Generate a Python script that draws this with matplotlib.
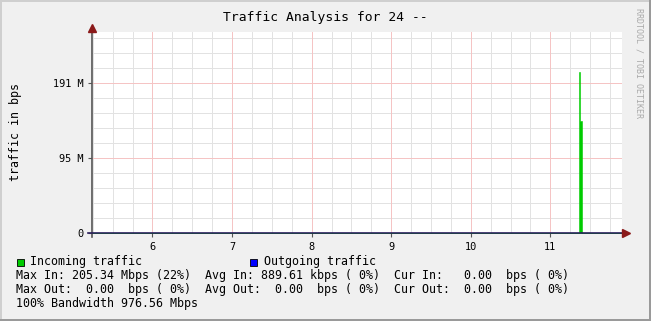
import numpy as np
import matplotlib
matplotlib.use('Agg')
import matplotlib.pyplot as plt

# Data (time in hours, traffic in bits per second)
in_times = [5.234, 11.354, 11.371, 11.399, 11.894]
in_values = [0.0, 215.3e6, 149.7e6, 0.0, 0.0]

x_ticks = [6, 7, 8, 9, 10, 11]
y_ticks = [0, 100e6, 200e6]
y_tick_labels = ['0', '95 M', '191 M']

legend_rows = [
    'Max In: 205.34 Mbps (22%)  Avg In: 889.61 kbps ( 0%)  Cur In:   0.00  bps ( 0%)',
    'Max Out:  0.00  bps ( 0%)  Avg Out:  0.00  bps ( 0%)  Cur Out:  0.00  bps ( 0%)',
    '100% Bandwidth 976.56 Mbps',
]

W, H = 651, 321
fig = plt.figure(figsize=(W / 100, H / 100), dpi=100)
fig.patch.set_facecolor('#F0F0F0')
mono = 'DejaVu Sans Mono'

# plot area in pixels
px_l, px_r, px_t, px_b = 91.5, 621.5, 32.0, 233.3
ax = fig.add_axes([px_l / W, 1 - px_b / H, (px_r - px_l) / W, (px_b - px_t) / H])
ax.set_facecolor('white')
ax.set_xlim(5.234, 11.894)
ax.set_ylim(0, 268.4e6)

# grid
for y in np.arange(20e6, 268e6, 20e6):
    ax.axhline(y, color='#E2E2E2', lw=0.7, zorder=1)
for x in np.arange(5.25, 11.9, 0.25):
    ax.axvline(x, color='#E2E2E2', lw=0.7, zorder=1)
for y in y_ticks[1:]:
    ax.axhline(y, color='#F6C4C4', lw=0.7, zorder=2)
for x in x_ticks:
    ax.axvline(x, color='#F6C4C4', lw=0.7, zorder=2)

ax.fill_between(in_times, in_values, step='post', facecolor='#00CC00',
                edgecolor='#00CC00', lw=0.4, zorder=3)

for s in ax.spines.values():
    s.set_visible(False)

ax.set_xticks(x_ticks)
ax.set_xticklabels([str(t) for t in x_ticks])
ax.set_yticks(y_ticks)
ax.set_yticklabels(y_tick_labels)
ax.tick_params(length=3, width=0.8, color='#555555', pad=3, labelsize=7.4)
for lab in ax.get_xticklabels() + ax.get_yticklabels():
    lab.set_family(mono)

# axes lines and arrows
hb = 201.3
ax.plot([0, 0], [-4 / hb, (px_b - 30) / hb], transform=ax.transAxes,
        color='#555555', lw=1.2, clip_on=False, zorder=5)
ax.plot([-4 / 530, (626 - px_l) / 530], [0, 0], transform=ax.transAxes,
        color='#2A1E5C', lw=1.2, clip_on=False, zorder=5)
ax.plot([0], [(px_b - 28.5) / hb], marker='^', ms=6, color='#8B1A1A',
        transform=ax.transAxes, clip_on=False, zorder=6)
ax.plot([(625.5 - px_l) / 530], [0], marker='>', ms=6, color='#8B1A1A',
        transform=ax.transAxes, clip_on=False, zorder=6)

# texts
fig.text(325.5 / W, 1 - 17 / H, 'Traffic Analysis for 24 --', family=mono,
         fontsize=9.4, ha='center', va='center')
fig.text(16 / W, 1 - 132 / H, 'traffic in bps', family=mono, fontsize=8.4,
         rotation=90, ha='center', va='center')
fig.text(639 / W, 1 - 8 / H, 'RRDTOOL / TOBI OETIKER', family=mono,
         fontsize=6, rotation=270, ha='center', va='top', color='#AAAAAA')

# legend
fig.patches.append(plt.Rectangle((16.7 / W, 1 - 265.5 / H), 7 / W, 7 / H,
                                 transform=fig.transFigure, facecolor='#00CC00',
                                 edgecolor='black', lw=0.6))
fig.patches.append(plt.Rectangle((249.5 / W, 1 - 265.5 / H), 7 / W, 7 / H,
                                 transform=fig.transFigure, facecolor='#0000FF',
                                 edgecolor='black', lw=0.6))
fig.text(30 / W, 1 - 261 / H, 'Incoming traffic', family=mono, fontsize=8.4, va='center')
fig.text(263.5 / W, 1 - 261 / H, 'Outgoing traffic', family=mono, fontsize=8.4, va='center')
for i, row in enumerate(legend_rows):
    fig.text(16.5 / W, 1 - (275 + 14 * i) / H, row, family=mono, fontsize=8.4, va='center')

# 3d frame
fig.patches.append(plt.Rectangle((0, 0), 2 / W, 1, transform=fig.transFigure,
                                 facecolor='#CFCFCF', lw=0))
fig.patches.append(plt.Rectangle((0, 1 - 2 / H), 1, 2 / H, transform=fig.transFigure,
                                 facecolor='#CFCFCF', lw=0))
fig.patches.append(plt.Rectangle((1 - 2 / W, 0), 2 / W, 1, transform=fig.transFigure,
                                 facecolor='#9A9A9A', lw=0))
fig.patches.append(plt.Rectangle((0, 0), 1, 2 / H, transform=fig.transFigure,
                                 facecolor='#9A9A9A', lw=0))

fig.savefig('out.png', dpi=100, facecolor=fig.get_facecolor())
